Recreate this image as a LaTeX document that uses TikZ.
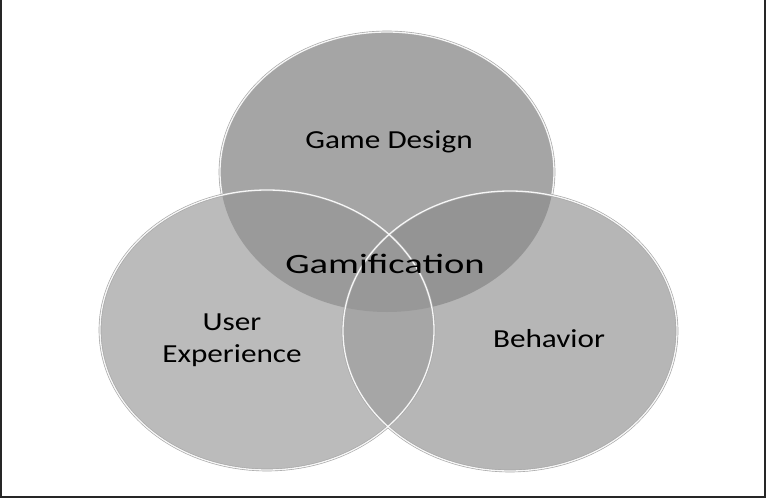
\documentclass[tikz,border=0pt]{standalone}
\usepackage{fontspec}
\setmainfont{Carlito}
\usetikzlibrary{positioning}
\definecolor{topgray}{HTML}{A5A5A5}
\definecolor{leftgray}{HTML}{BBBBBB}
\definecolor{rightgray}{HTML}{B6B6B6}
\definecolor{tlgray}{HTML}{9A9A9A}
\definecolor{trgray}{HTML}{949494}
\definecolor{lrgray}{HTML}{A6A6A6}
\definecolor{allgray}{HTML}{989898}
\tikzstyle{venntext} = [font=\fontsize{26}{32}\selectfont, text=black, xscale=1.2, transform shape, align=center]
\tikzstyle{rim} = [draw=white, line width=1.3pt, opacity=0.9]
\tikzstyle{rimshade} = [draw=gray!70, line width=2.6pt]
\def\topset{(387,172) ellipse [x radius=167, y radius=140]}
\def\leftset{(267,330) ellipse [x radius=167, y radius=140]}
\def\rightset{(510,331) ellipse [x radius=167, y radius=140]}

\begin{document}
\begin{tikzpicture}[x=1pt,y=-1pt]
	\useasboundingbox (0,0) rectangle (767,500);
		% Marco
		\draw[line width=2pt, black!85] (1,0) -- (1,497) -- (765,497) -- (765,0);
	
		% Circulo superior (al fondo)
		\fill[topgray] \topset;
		\path[rimshade] \topset;
		\path[rim] \topset;
		
		% Circulos inferiores
		\fill[leftgray] \leftset;
		\fill[rightgray] \rightset;
		
		% Intersecciones
		\begin{scope}
			\clip \topset;
			\fill[tlgray] \leftset;
			\fill[trgray] \rightset;
		\end{scope}
		\begin{scope}
			\clip \leftset;
			\fill[lrgray] \rightset;
			\clip \topset;
			\fill[allgray] \rightset;
		\end{scope}
		
		% Bordes
		\path[rimshade] \rightset;
		\path[rimshade] \leftset;
		\path[rim] \rightset;
		\path[rim] \leftset;
		
		% Textos
		\node[venntext] (design) at (389,142) {Game Design};
		\node[venntext, font=\fontsize{28}{32}\selectfont, xscale=1.15] (gamif) at (385,264) {Gamification};
		\node[venntext] (ux) at (232,340) {User\\Experience};
		\node[venntext] (behavior) at (549,339) {Behavior};
\end{tikzpicture}
\end{document}
